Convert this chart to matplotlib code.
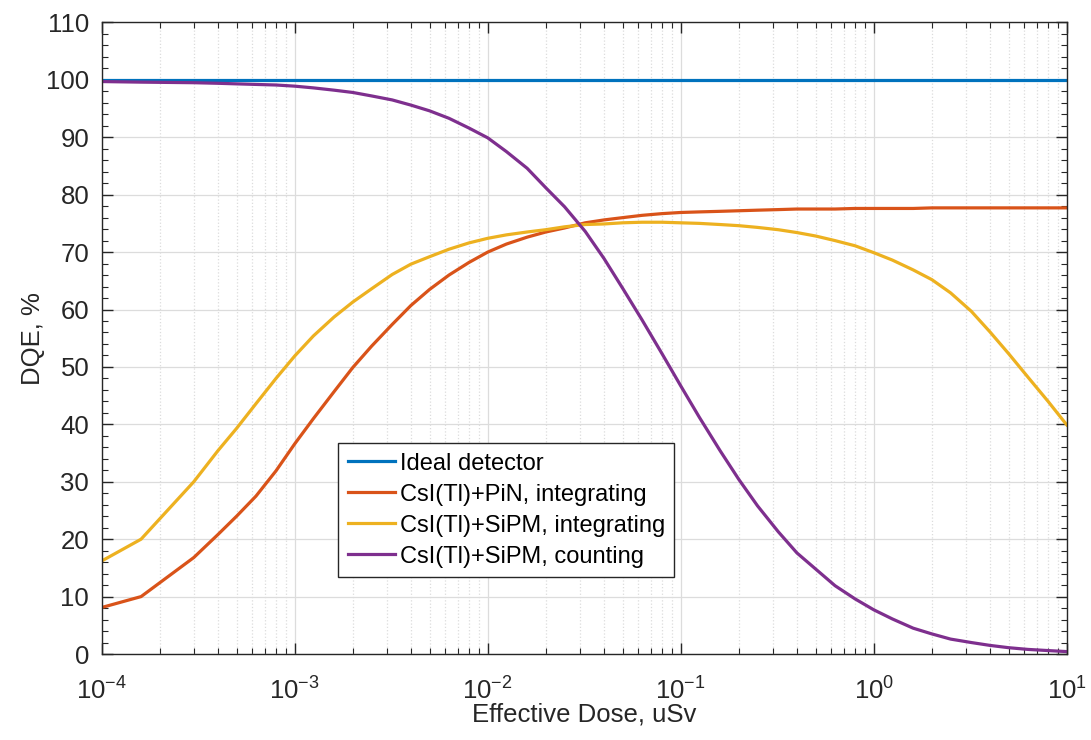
import numpy as np
import matplotlib.pyplot as plt
from matplotlib.ticker import LogLocator, MultipleLocator, NullFormatter

plt.rcParams['font.family'] = ['Liberation Sans', 'DejaVu Sans']
plt.rcParams['mathtext.fontset'] = 'custom'
plt.rcParams['mathtext.rm'] = 'Liberation Sans'

# dose points (uSv) and DQE values
dose = [1e-4, 1.6e-4, 3e-4, 4e-4, 5e-4, 6.3e-4, 8e-4,
        1e-3, 1.25e-3, 1.6e-3, 2e-3, 2.5e-3, 3.2e-3, 4e-3, 5e-3, 6.3e-3, 8e-3,
        1e-2, 1.25e-2, 1.6e-2, 2e-2, 2.5e-2, 3.2e-2, 4e-2, 5e-2, 6.3e-2, 8e-2,
        0.1, 0.125, 0.16, 0.2, 0.25, 0.32, 0.4, 0.5, 0.63, 0.8,
        1, 1.25, 1.6, 2, 2.5, 3.2, 4, 5, 6.3, 8, 10]

dqe_ideal = [100.0] * len(dose)

dqe_pin_int = [8.1, 10.0, 16.8, 20.8, 24.0, 27.5, 31.9,
               36.6, 41.0, 45.7, 49.9, 53.6, 57.4, 60.7, 63.5, 66.0, 68.2,
               70.0, 71.4, 72.6, 73.5, 74.2, 75.1, 75.6, 76.0, 76.4, 76.7,
               76.9, 77.0, 77.1, 77.2, 77.3, 77.4, 77.5, 77.5, 77.5, 77.6,
               77.6, 77.6, 77.6, 77.7, 77.7, 77.7, 77.7, 77.7, 77.7, 77.7, 77.7]

dqe_sipm_int = [16.2, 20.0, 30.0, 35.4, 39.3, 43.6, 48.0,
                51.9, 55.4, 58.7, 61.3, 63.6, 66.1, 67.9, 69.2, 70.5, 71.6,
                72.4, 73.0, 73.5, 73.9, 74.4, 74.8, 74.9, 75.1, 75.2, 75.2,
                75.1, 75.0, 74.8, 74.6, 74.3, 73.9, 73.4, 72.8, 72.0, 71.1,
                69.9, 68.6, 66.9, 65.2, 62.9, 59.7, 56.1, 52.3, 48.2, 44.0, 39.9]

dqe_sipm_cnt = [99.7, 99.6, 99.5, 99.4, 99.3, 99.2, 99.1,
                98.9, 98.6, 98.2, 97.8, 97.2, 96.5, 95.6, 94.6, 93.3, 91.6,
                89.9, 87.5, 84.6, 81.2, 77.9, 73.6, 68.9, 63.7, 58.2, 52.3,
                46.7, 41.2, 35.4, 30.4, 25.8, 21.3, 17.6, 14.8, 11.9, 9.6,
                7.7, 6.1, 4.5, 3.5, 2.6, 2.0, 1.5, 1.1, 0.8, 0.6, 0.42]

labels = ['Ideal detector', 'CsI(Tl)+PiN, integrating',
          'CsI(Tl)+SiPM, integrating', 'CsI(Tl)+SiPM, counting']
colors = ['#0072BD', '#D95319', '#EDB120', '#7E2F8E']

fig = plt.figure(figsize=(10.91, 7.40), dpi=100)
ax = fig.add_axes([0.0932, 0.1162, 0.8846, 0.8535])

series = [dqe_ideal, dqe_pin_int, dqe_sipm_int, dqe_sipm_cnt]
for vals, lab, col in zip(series, labels, colors):
    ax.plot(dose, vals, color=col, linewidth=2.3, label=lab)

ax.set_xscale('log')
ax.set_xlim(1e-4, 10)
ax.set_ylim(0, 110)
ax.yaxis.set_major_locator(MultipleLocator(10))
ax.yaxis.set_minor_locator(MultipleLocator(2))
ax.xaxis.set_minor_locator(LogLocator(base=10, subs=np.arange(2, 10)))
ax.xaxis.set_minor_formatter(NullFormatter())

txt = '#262626'
ax.grid(True, which='major', color='#dcdcdc', linewidth=0.9)
ax.grid(True, which='minor', axis='x', color='#dcdcdc', linestyle=':', linewidth=0.9)
ax.set_axisbelow(True)

ax.tick_params(which='both', direction='in', top=True, right=True, colors=txt)
ax.tick_params(which='major', length=8, width=1, labelsize=18.5)
ax.tick_params(axis='y', which='major', pad=9)
ax.tick_params(axis='x', which='major', pad=17)
ax.tick_params(which='minor', length=4, width=0.8)
for s in ax.spines.values():
    s.set_color(txt)
    s.set_linewidth(1)

ax.set_xlabel('Effective Dose, uSv', fontsize=18.5, color=txt)
ax.xaxis.set_label_coords(0.5, -0.077)
ax.set_ylabel('DQE, %', fontsize=18.5, color=txt, labelpad=1)

leg = ax.legend(loc='lower left', bbox_to_anchor=(0.245, 0.122), borderaxespad=0,
                fontsize=17, frameon=True, fancybox=False, handlelength=2.0,
                handletextpad=0.2, borderpad=0.4, labelspacing=0.38)
leg.get_frame().set_edgecolor(txt)
leg.get_frame().set_linewidth(1)
leg.get_frame().set_alpha(1)

fig.savefig('out.png', dpi=100)
